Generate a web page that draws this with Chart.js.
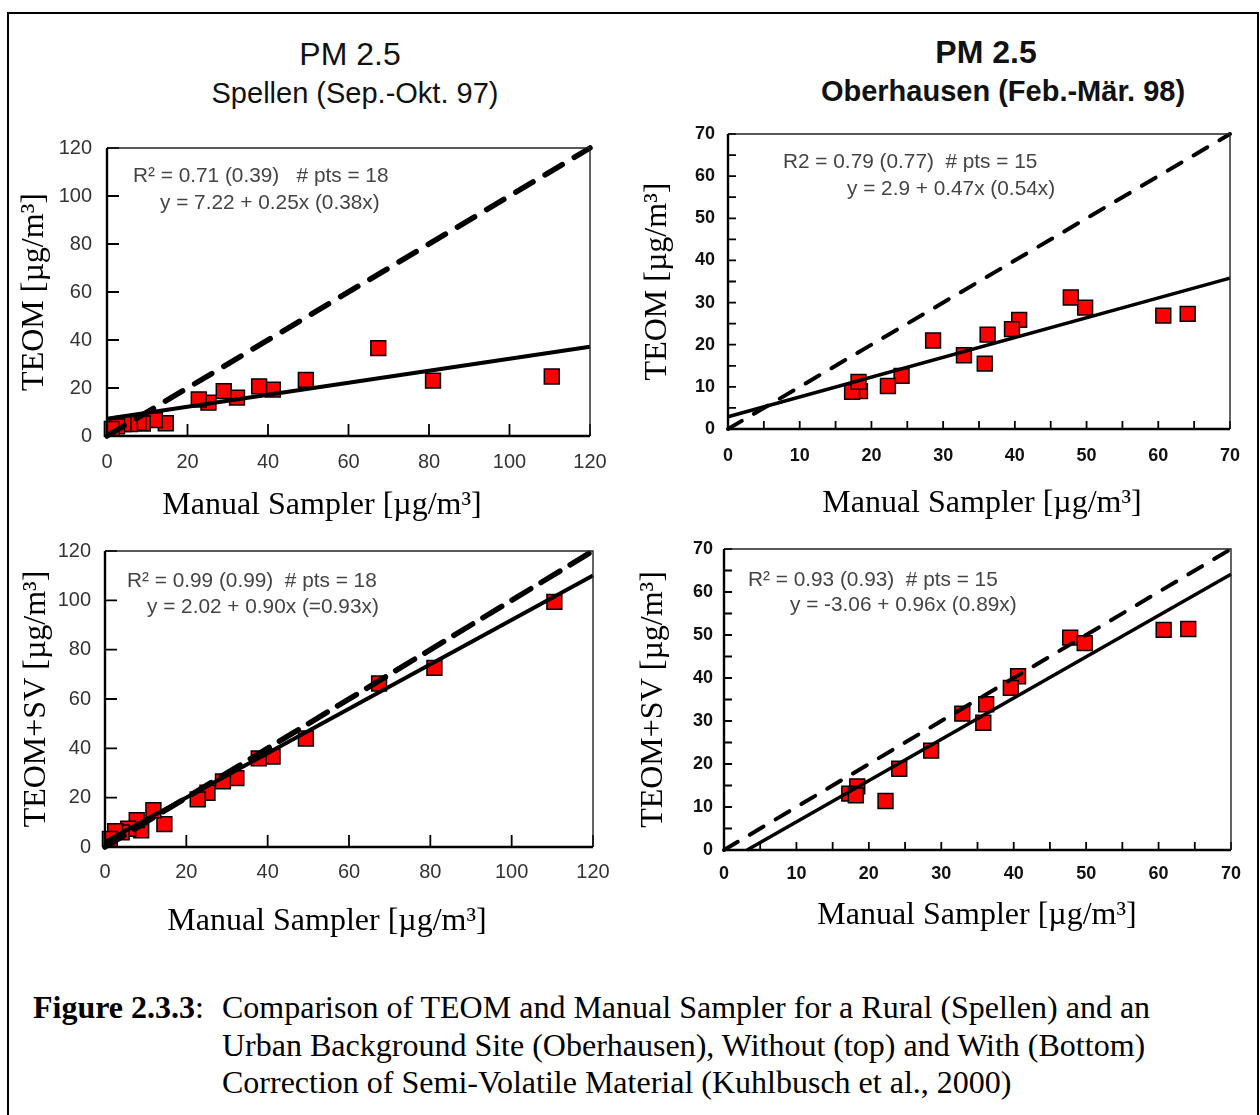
<!DOCTYPE html>
<html>
<head>
<meta charset="utf-8">
<script src="https://cdn.jsdelivr.net/npm/chart.js@4.4.1/dist/chart.umd.min.js"></script>
<style>
  body { margin: 0; background: #fff; width: 1260px; height: 1115px; overflow: hidden; position: relative; }
  .frame { position: absolute; left: 7px; top: 12px; width: 1248px; height: 1200px; border: 2px solid #000; }
  .box { position: absolute; }
  .txt { position: absolute; white-space: pre; }
  .ttl { position: absolute; width: 600px; text-align: center; font-family: "Liberation Sans", Arial, sans-serif; color: #111; }
  .xt { position: absolute; width: 600px; text-align: center; font-family: "Liberation Serif", "Times New Roman", serif; font-size: 32px; line-height: 38px; color: #000; }
  .ann { font-family: "Liberation Sans", Arial, sans-serif; font-size: 20.8px; line-height: 24px; color: #444; }
  .cap { font-family: "Liberation Serif", "Times New Roman", serif; font-size: 32px; line-height: 37.5px; color: #000; }
</style>
</head>
<body>
<div class="frame"></div>

<div class="ttl" style="left:50px; top:34px; font-size:32px; line-height:40px;">PM 2.5</div>
<div class="ttl" style="left:55px; top:75px; font-size:29px; line-height:36px;">Spellen (Sep.-Okt. 97)</div>
<div class="ttl" style="left:686px; top:32px; font-size:32px; line-height:40px; font-weight:bold;">PM 2.5</div>
<div class="ttl" style="left:703px; top:73px; font-size:29px; line-height:36px; font-weight:bold;">Oberhausen (Feb.-Mär. 98)</div>

<div class="box" id="p1"><canvas></canvas></div>
<div class="box" id="p2"><canvas></canvas></div>
<div class="box" id="p3"><canvas></canvas></div>
<div class="box" id="p4"><canvas></canvas></div>

<div class="xt" style="left:22px; top:484px;">Manual Sampler [µg/m³]</div>
<div class="xt" style="left:682px; top:482px;">Manual Sampler [µg/m³]</div>
<div class="xt" style="left:27px; top:900px;">Manual Sampler [µg/m³]</div>
<div class="xt" style="left:677px; top:894px;">Manual Sampler [µg/m³]</div>

<div class="txt ann" style="left:133px; top:163px;">R² = 0.71 (0.39)   # pts = 18</div>
<div class="txt ann" style="left:160px; top:190px;">y = 7.22 + 0.25x (0.38x)</div>
<div class="txt ann" style="left:783px; top:149px;">R2 = 0.79 (0.77)  # pts = 15</div>
<div class="txt ann" style="left:847px; top:176px;">y = 2.9 + 0.47x (0.54x)</div>
<div class="txt ann" style="left:127px; top:568px;">R² = 0.99 (0.99)  # pts = 18</div>
<div class="txt ann" style="left:147px; top:594px;">y = 2.02 + 0.90x (=0.93x)</div>
<div class="txt ann" style="left:748px; top:567px;">R² = 0.93 (0.93)  # pts = 15</div>
<div class="txt ann" style="left:790px; top:592px;">y = -3.06 + 0.96x (0.89x)</div>

<div class="txt cap" style="left:33px; top:989px;"><b>Figure 2.3.3</b>:</div>
<div class="txt cap" style="left:222px; top:989px;">Comparison of TEOM and Manual Sampler for a Rural (Spellen) and an
Urban Background Site (Oberhausen), Without (top) and With (Bottom)
Correction of Semi-Volatile Material (Kuhlbusch et al., 2000)</div>

<script>
// Spellen (rural), 18 samples
var spellenManual = [110.5, 81, 67.4, 49.4, 41.2, 37.8, 32.3, 29, 25.2, 22.8, 14.6, 11.9, 8.9, 7.8, 5.7, 4.1, 2.5, 1.2];
var spellenTeom   = [24.8, 23.1, 36.6, 23.4, 19.3, 20.7, 16.0, 18.7, 13.9, 15.2, 5.3, 6.6, 5.2, 5.5, 5.0, 5.0, 4.0, 3.0];
var spellenTeomSv = [99.4, 72.6, 66.3, 44.0, 36.7, 35.9, 27.9, 26.6, 22.0, 19.3, 9.3, 14.9, 6.8, 10.9, 7.4, 5.9, 6.4, 3.3];

// Oberhausen (urban background), 15 samples
var oberManual = [47.8, 49.8, 60.7, 64.1, 40.6, 39.6, 36.2, 28.6, 32.9, 35.8, 24.2, 22.3, 18.4, 17.3, 18.2];
var oberTeom   = [31.2, 28.8, 26.9, 27.3, 25.9, 23.7, 22.4, 21.0, 17.5, 15.5, 12.6, 10.2, 9.0, 8.8, 11.2];
var oberTeomSv = [49.4, 48.1, 51.2, 51.4, 40.4, 37.7, 33.9, 23.1, 31.7, 29.6, 18.9, 11.4, 14.8, 13.1, 12.7];

// axis ranges / tick labels
var spellenRange = [0, 120];
var oberRange = [0, 70];
var spellenTicks = [0, 20, 40, 60, 80, 100, 120];
var oberTicks = [0, 10, 20, 30, 40, 50, 60, 70];

// fitted lines (end points)
var fitSpellenTeomX = [0, 120],  fitSpellenTeomY = [7.22, 37.22];
var fitOberTeomX = [0, 70],      fitOberTeomY = [2.9, 35.8];
var fitSpellenSvX = [0, 120],    fitSpellenSvY = [2.02, 110.02];
var fitOberSvX = [3.19, 70],     fitOberSvY = [0, 64.14];

function pairs(xs, ys)
{
	var out = [];
	for (var i = 0; i < xs.length; i++)
		out.push({x: xs[i], y: ys[i]});
	return out;
}

// inward tick marks + plot frame
var frameTicks = {
	id: 'frameTicks',
	afterDraw: function(chart, args, o)
	{
		var ctx = chart.ctx, a = chart.chartArea, x = chart.scales.x, y = chart.scales.y;
		var n = Math.round((x.max - x.min) / o.step), i, p;
		ctx.save();
		ctx.strokeStyle = '#000';
		ctx.lineWidth = o.tickWidth;
		ctx.beginPath();
		for (i = 1; i <= n; i++)
		{
			p = x.getPixelForValue(x.min + i * o.step);
			ctx.moveTo(p, a.bottom); ctx.lineTo(p, a.bottom - o.len);
			p = y.getPixelForValue(y.min + i * o.step);
			ctx.moveTo(a.left, p); ctx.lineTo(a.left + o.len, p);
		}
		ctx.stroke();
		ctx.lineWidth = o.thin;
		ctx.strokeStyle = '#222';
		ctx.beginPath();
		ctx.moveTo(a.left, a.top); ctx.lineTo(a.right, a.top); ctx.lineTo(a.right, a.bottom);
		ctx.stroke();
		ctx.lineWidth = o.thick;
		ctx.strokeStyle = '#000';
		ctx.beginPath();
		ctx.moveTo(a.left, a.top); ctx.lineTo(a.left, a.bottom); ctx.lineTo(a.right, a.bottom);
		ctx.stroke();
		ctx.restore();
	}
};

function makePanel(id, c)
{
	var AXW = 97, AXH = 95, PT = 10, PR = 20;
	var el = document.getElementById(id);
	el.style.left = (c.area[0] - AXW) + 'px';
	el.style.top = (c.area[1] - PT) + 'px';
	el.style.width = (c.area[2] + PR - c.area[0] + AXW) + 'px';
	el.style.height = (c.area[3] + AXH - c.area[1] + PT) + 'px';

	var tickFont = c.bold ? {family: 'Liberation Sans', size: 18, weight: 'bold'} : {family: 'Liberation Sans', size: 20};
	var tickColor = c.bold ? '#111' : '#333';
	var titleFont = {family: 'Liberation Serif', size: 32};
	var setTicks = function(s) { s.ticks = c.ticks.map(function(v) { return {value: v}; }); };

	new Chart(el.querySelector('canvas'), {
		type: 'scatter',
		data: {
			datasets: [
				{data: pairs(c.range, c.range), showLine: true, borderColor: '#000', borderWidth: c.dashW, borderDash: c.dash, borderCapStyle: 'round', pointRadius: 0, clip: false},
				{data: pairs(c.fitX, c.fitY), showLine: true, borderColor: '#000', borderWidth: c.fitW, pointRadius: 0, clip: false},
				{data: pairs(c.xs, c.ys), backgroundColor: '#ff0000', borderColor: '#000', borderWidth: 1.5, pointStyle: 'rect', pointRadius: 10.5, clip: false}
			]
		},
		options: {
			responsive: true,
			maintainAspectRatio: false,
			animation: false,
			events: [],
			layout: {padding: {top: PT, right: PR, left: 0, bottom: 0}},
			plugins: {
				legend: {display: false},
				tooltip: {enabled: false},
				frameTicks: {step: c.minor, len: c.tickLen, tickWidth: 1.8, thin: 1.4, thick: 2.4}
			},
			scales: {
				x: {
					type: 'linear', min: c.range[0], max: c.range[1],
					afterBuildTicks: setTicks,
					grid: {display: false, drawTicks: false},
					border: {display: false},
					ticks: {font: tickFont, color: tickColor, padding: c.xTickPad},
					afterFit: function(s) { s.height = AXH; s.paddingLeft = 0; s.paddingRight = 0; }
				},
				y: {
					type: 'linear', min: c.range[0], max: c.range[1],
					afterBuildTicks: setTicks,
					grid: {display: false, drawTicks: false},
					border: {display: false},
					ticks: {font: tickFont, color: tickColor, padding: c.yTickPad},
					title: {display: true, text: c.yTitle, font: titleFont, color: '#000', padding: {top: c.yTitlePad, bottom: 0}},
					afterFit: function(s) { s.width = AXW; s.paddingTop = 0; s.paddingBottom = 0; }
				}
			}
		},
		plugins: [frameTicks]
	});
}

makePanel('p1', {area: [107, 146, 590, 436], range: spellenRange, ticks: spellenTicks, minor: 20, tickLen: 12,
	xs: spellenManual, ys: spellenTeom, fitX: fitSpellenTeomX, fitY: fitSpellenTeomY,
	dashW: 5.5, dash: [20, 14], fitW: 4, yTitle: 'TEOM [µg/m³]',
	xTickPad: 14, yTickPad: 15, yTitlePad: 5});

makePanel('p2', {area: [727.5, 132, 1229.5, 429], range: oberRange, ticks: oberTicks, minor: 5, tickLen: 8, bold: true,
	xs: oberManual, ys: oberTeom, fitX: fitOberTeomX, fitY: fitOberTeomY,
	dashW: 4, dash: [16, 14], fitW: 3.5, yTitle: 'TEOM [µg/m³]',
	xTickPad: 16, yTickPad: 13, yTitlePad: 7});

makePanel('p3', {area: [105, 549, 593, 847], range: spellenRange, ticks: spellenTicks, minor: 20, tickLen: 12,
	xs: spellenManual, ys: spellenTeomSv, fitX: fitSpellenSvX, fitY: fitSpellenSvY,
	dashW: 5.5, dash: [22, 12], fitW: 4, yTitle: 'TEOM+SV [µg/m³]',
	xTickPad: 13, yTickPad: 14, yTitlePad: 9});

makePanel('p4', {area: [724, 547, 1231, 850], range: oberRange, ticks: oberTicks, minor: 5, tickLen: 8, bold: true,
	xs: oberManual, ys: oberTeomSv, fitX: fitOberSvX, fitY: fitOberSvY,
	dashW: 4, dash: [16, 14], fitW: 3.5, yTitle: 'TEOM+SV [µg/m³]',
	xTickPad: 13, yTickPad: 11, yTitlePad: 7});
</script>
</body>
</html>
